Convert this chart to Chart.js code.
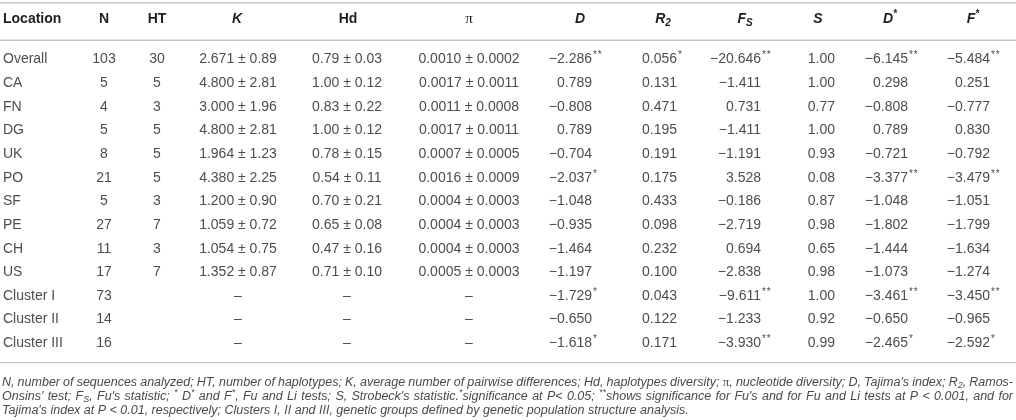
<!DOCTYPE html>
<html>
<head>
<meta charset="utf-8">
<script src="https://cdn.jsdelivr.net/npm/chart.js@4.4.1/dist/chart.umd.min.js"></script>
<style>
  html, body { margin: 0; padding: 0; background: #ffffff; }
  #wrap { width: 1016px; height: 420px; position: relative; }
</style>
</head>
<body>
<div id="wrap"><canvas id="c" width="1016" height="420"></canvas></div>
<script>
// ---------------- DATA ----------------
const locations = ['Overall','CA','FN','DG','UK','PO','SF','PE','CH','US','Cluster I','Cluster II','Cluster III'];
const headerLabels = ['Location','N','HT','K','Hd','~{π}','D','R_{2}','F_{S}','S','D^{*}','F^{*}'];

const sampleN    = [103, 5, 4, 5, 8, 21, 5, 27, 11, 17, 73, 14, 16];
const haplotypes = [30, 5, 3, 5, 5, 5, 3, 7, 3, 7, null, null, null];
const kMean      = [2.671, 4.800, 3.000, 4.800, 1.964, 4.380, 1.200, 1.059, 1.054, 1.352, null, null, null];
const kSd        = [0.89, 2.81, 1.96, 2.81, 1.23, 2.25, 0.90, 0.72, 0.75, 0.87, null, null, null];
const hdMean     = [0.79, 1.00, 0.83, 1.00, 0.78, 0.54, 0.70, 0.65, 0.47, 0.71, null, null, null];
const hdSd       = [0.03, 0.12, 0.22, 0.12, 0.15, 0.11, 0.21, 0.08, 0.16, 0.10, null, null, null];
const piMean     = [0.0010, 0.0017, 0.0011, 0.0017, 0.0007, 0.0016, 0.0004, 0.0004, 0.0004, 0.0005, null, null, null];
const piSd       = [0.0002, 0.0011, 0.0008, 0.0011, 0.0005, 0.0009, 0.0003, 0.0003, 0.0003, 0.0003, null, null, null];
const tajimaD    = [-2.286, 0.789, -0.808, 0.789, -0.704, -2.037, -1.048, -0.935, -1.464, -1.197, -1.729, -0.650, -1.618];
const tajimaSig  = ['**', '', '', '', '', '*', '', '', '', '', '*', '', '*'];
const ramosR2    = [0.056, 0.131, 0.471, 0.195, 0.191, 0.175, 0.433, 0.098, 0.232, 0.100, 0.043, 0.122, 0.171];
const ramosSig   = ['*', '', '', '', '', '', '', '', '', '', '', '', ''];
const fuFs       = [-20.646, -1.411, 0.731, -1.411, -1.191, 3.528, -0.186, -2.719, 0.694, -2.838, -9.611, -1.233, -3.930];
const fuFsSig    = ['**', '', '', '', '', '', '', '', '', '', '**', '', '**'];
const strobeckS  = [1.00, 1.00, 0.77, 1.00, 0.93, 0.08, 0.87, 0.98, 0.65, 0.98, 1.00, 0.92, 0.99];
const fuLiD      = [-6.145, 0.298, -0.808, 0.789, -0.721, -3.377, -1.048, -1.802, -1.444, -1.073, -3.461, -0.650, -2.465];
const fuLiDSig   = ['**', '', '', '', '', '**', '', '', '', '', '**', '', '*'];
const fuLiF      = [-5.484, 0.251, -0.777, 0.830, -0.792, -3.479, -1.051, -1.799, -1.634, -1.274, -3.450, -0.965, -2.592];
const fuLiFSig   = ['**', '', '', '', '', '**', '', '', '', '', '**', '', '*'];

const footnoteLines = [
  "N, number of sequences analyzed; HT, number of haplotypes; K, average number of pairwise differences; Hd, haplotypes diversity; ~{π}, nucleotide diversity; D, Tajima's index; R_{2}, Ramos-",
  "Onsins' test; F_{S}, Fu's statistic; ^{*} D^{*} and F^{*}, Fu and Li tests; S, Strobeck's statistic.^{*}significance at P< 0.05; ^{**}shows significance for Fu's and for Fu and Li tests at P < 0.001, and for",
  "Tajima's index at P < 0.01, respectively; Clusters I, II and III, genetic groups defined by genetic population structure analysis."
];

// ---------------- FORMATTING ----------------
const MINUS = '\u2212';
const fmt = (v, d) => (v < 0 ? MINUS : '') + Math.abs(v).toFixed(d);
const pm = (m, s, d1, d2) => (m == null ? '\u2013' : fmt(m, d1) + ' \u00b1 ' + fmt(s, d2));

const cellGetters = [
  i => ({ t: locations[i], s: '' }),
  i => ({ t: String(sampleN[i]), s: '' }),
  i => ({ t: haplotypes[i] == null ? '' : String(haplotypes[i]), s: '' }),
  i => ({ t: pm(kMean[i], kSd[i], 3, 2), s: '' }),
  i => ({ t: pm(hdMean[i], hdSd[i], 2, 2), s: '' }),
  i => ({ t: pm(piMean[i], piSd[i], 4, 4), s: '' }),
  i => ({ t: fmt(tajimaD[i], 3), s: tajimaSig[i] }),
  i => ({ t: fmt(ramosR2[i], 3), s: ramosSig[i] }),
  i => ({ t: fmt(fuFs[i], 3), s: fuFsSig[i] }),
  i => ({ t: fmt(strobeckS[i], 2), s: '' }),
  i => ({ t: fmt(fuLiD[i], 3), s: fuLiDSig[i] }),
  i => ({ t: fmt(fuLiF[i], 3), s: fuLiFSig[i] })
];

// ---------------- LAYOUT / STYLE ----------------
const SANS = '"Liberation Sans", Arial, Helvetica, sans-serif';
const SERIF = '"Liberation Serif", "DejaVu Serif", serif';
const colLayout = [
  { x: 3,   align: 'left',   hx: 3,   hAlign: 'left',   italic: false },
  { x: 104, align: 'center', hx: 104, hAlign: 'center', italic: false },
  { x: 157, align: 'center', hx: 157, hAlign: 'center', italic: false },
  { x: 238, align: 'center', hx: 237, hAlign: 'center', italic: true },
  { x: 347, align: 'center', hx: 348, hAlign: 'center', italic: false },
  { x: 469, align: 'center', hx: 469, hAlign: 'center', italic: false },
  { x: 592, align: 'right',  hx: 580, hAlign: 'center', italic: true },
  { x: 677, align: 'right',  hx: 663, hAlign: 'center', italic: true },
  { x: 761, align: 'right',  hx: 745, hAlign: 'center', italic: true },
  { x: 835, align: 'right',  hx: 818, hAlign: 'center', italic: true },
  { x: 908, align: 'right',  hx: 890, hAlign: 'center', italic: true },
  { x: 990, align: 'right',  hx: 973, hAlign: 'center', italic: true }
];
const style = {
  cellColor: '#4d4d4d', headColor: '#1f1f1f', noteColor: '#4a4a4a', ruleColor: '#c6c6c6',
  cellSize: 14, headSize: 14, noteSize: 12.5
};

// ---------------- RICH TEXT ----------------
function parseRich(str) {
  const runs = []; let i = 0; let buf = '';
  const push = (t, kind) => { if (t) runs.push({ t, kind }); };
  while (i < str.length) {
    const c = str[i];
    if ((c === '_' || c === '^' || c === '~') && str[i + 1] === '{') {
      push(buf, 'n'); buf = '';
      const end = str.indexOf('}', i + 2);
      push(str.slice(i + 2, end), c === '_' ? 'sub' : c === '^' ? 'sup' : 'serif');
      i = end + 1;
    } else { buf += c; i++; }
  }
  push(buf, 'n');
  return runs;
}
function runFont(kind, base) {
  const st = (base.italic ? 'italic ' : '') + (base.bold ? 'bold ' : '');
  if (kind === 'serif') return (base.size + 1) + 'px ' + SERIF;
  if (kind === 'sub' || kind === 'sup') return st + Math.round(base.size * 0.72) + 'px ' + SANS;
  return st + base.size + 'px ' + SANS;
}
function runOffset(kind, base) {
  if (kind === 'sub') return base.size * 0.28;
  if (kind === 'sup') return -base.size * 0.33;
  return 0;
}
function measureRich(ctx, runs, base) {
  let w = 0;
  runs.forEach(r => { ctx.font = runFont(r.kind, base); w += ctx.measureText(r.t).width; });
  return w;
}
function drawRich(ctx, runs, x, y, base) {
  runs.forEach(r => {
    ctx.font = runFont(r.kind, base);
    ctx.fillText(r.t, x, y + runOffset(r.kind, base));
    x += ctx.measureText(r.t).width;
  });
  return x;
}

// ---------------- PLUGIN ----------------
const tablePlugin = {
  id: 'tableDraw',
  afterDatasetsDraw(chart) {
    const ctx = chart.ctx;
    const area = chart.chartArea;
    const xs = chart.scales.x;
    ctx.save();
    ctx.textBaseline = 'middle';
    ctx.textAlign = 'left';

    // rules
    ctx.strokeStyle = style.ruleColor;
    ctx.lineWidth = 1.4;
    const rules = [area.top - 45, area.top - 7.5, area.bottom + 7.5];
    rules.forEach(y => { ctx.beginPath(); ctx.moveTo(0, y); ctx.lineTo(chart.width, y); ctx.stroke(); });

    // header
    const headY = area.top - 28.5;
    ctx.fillStyle = style.headColor;
    headerLabels.forEach((lab, c) => {
      const L = colLayout[c];
      const base = { size: style.headSize, bold: true, italic: L.italic };
      const runs = parseRich(lab);
      const w = measureRich(ctx, runs, base);
      const hx = xs.getPixelForValue(L.hx);
      const x0 = L.hAlign === 'left' ? hx : hx - w / 2;
      drawRich(ctx, runs, x0, headY, base);
    });

    // cells: drawn at each dataset element position (library scales)
    ctx.fillStyle = style.cellColor;
    chart.data.datasets.forEach((ds, c) => {
      const meta = chart.getDatasetMeta(c);
      const L = colLayout[c];
      meta.data.forEach((el, i) => {
        const cell = cellGetters[c](i);
        if (!cell.t) return;
        ctx.font = style.cellSize + 'px ' + SANS;
        const w = ctx.measureText(cell.t).width;
        let x0;
        if (L.align === 'left') x0 = el.x;
        else if (L.align === 'right') x0 = el.x - w;
        else x0 = el.x - w / 2;
        ctx.fillText(cell.t, x0, el.y);
        if (cell.s) {
          ctx.font = '10px ' + SANS;
          ctx.fillText(cell.s.split('').join('\u200a'), x0 + w + 1, el.y - 4);
        }
      });
    });

    // footnote (justified)
    ctx.fillStyle = style.noteColor;
    const nbase = { size: style.noteSize, bold: false, italic: true };
    const left = 2, right = 1013;
    footnoteLines.forEach((line, li) => {
      const y = area.bottom + 27 + li * 14.2;
      const words = line.split(' ').map(w => parseRich(w));
      const widths = words.map(r => measureRich(ctx, r, nbase));
      const total = widths.reduce((a, b) => a + b, 0);
      ctx.font = runFont('n', nbase);
      const spaceW = ctx.measureText(' ').width;
      let gap = spaceW;
      if (li < footnoteLines.length - 1) gap = (right - left - total) / (words.length - 1);
      let x = left;
      words.forEach((r, k) => { drawRich(ctx, r, x, y, nbase); x += widths[k] + gap; });
    });
    ctx.restore();
  }
};

// ---------------- CHART ----------------
const datasets = headerLabels.map((lab, c) => ({
  label: lab.replace(/[_^~]\{([^}]*)\}/g, '$1'),
  data: locations.map(loc => ({ x: colLayout[c].x, y: loc })),
  pointRadius: 0,
  pointHoverRadius: 0,
  showLine: false
}));

new Chart(document.getElementById('c'), {
  type: 'scatter',
  data: { datasets },
  options: {
    responsive: false,
    animation: false,
    devicePixelRatio: 1,
    layout: { padding: { top: 47.7, bottom: 64.9, left: 0, right: 0 } },
    plugins: { legend: { display: false }, tooltip: { enabled: false } },
    events: [],
    scales: {
      x: { type: 'linear', min: 0, max: 1016, display: false },
      y: { type: 'category', labels: locations, offset: true, display: false }
    }
  },
  plugins: [tablePlugin]
});
</script>
</body>
</html>
